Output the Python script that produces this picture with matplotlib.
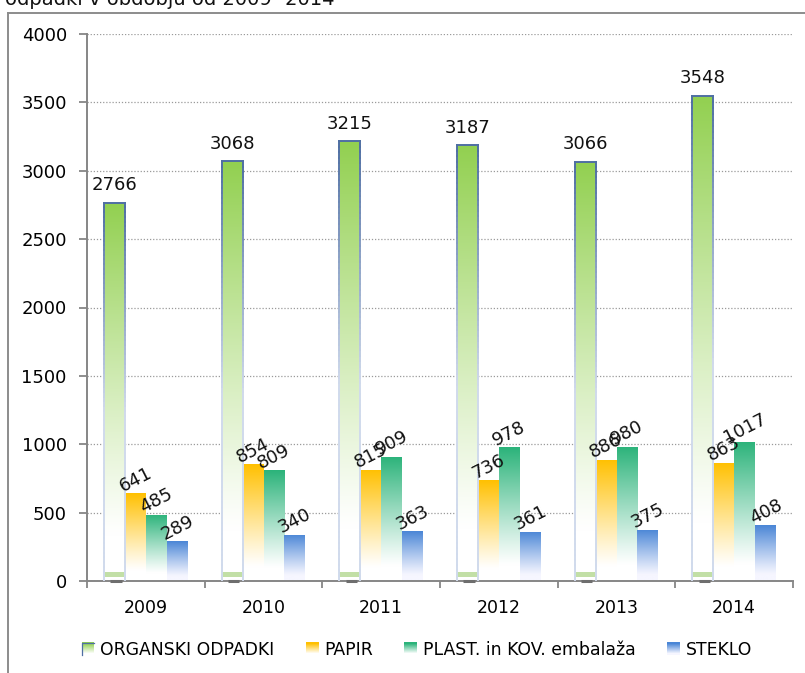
import numpy as np
import matplotlib
matplotlib.use("Agg")
import matplotlib.pyplot as plt
from matplotlib.colors import to_rgb
from matplotlib.patches import Rectangle
from matplotlib.collections import LineCollection
from matplotlib.legend_handler import HandlerBase
from matplotlib.lines import Line2D

plt.rcParams['font.family'] = ['DejaVu Sans']

years = ['2009', '2010', '2011', '2012', '2013', '2014']
series_names = ['ORGANSKI ODPADKI', 'PAPIR', 'PLAST. in KOV. embalaža', 'STEKLO']
organski = [2766, 3068, 3215, 3187, 3066, 3548]
papir = [641, 854, 815, 736, 886, 863]
plast = [485, 809, 909, 978, 980, 1017]
steklo = [289, 340, 363, 361, 375, 408]
yticks = [0, 500, 1000, 1500, 2000, 2500, 3000, 3500, 4000]
title_text = 'odpadki v obdobju od 2009 -2014'

top_colors = ['#92D050', '#FFC000', '#2BB37A', '#4A86D6']
bottom_colors = ['#FFFFFF', '#FFFFFF', '#FFFFFF', '#F6F6FF']
border_top = '#4F6FA3'
border_bottom = '#D0DAEC'

W, H = 805, 673
fig = plt.figure(figsize=(W / 100, H / 100), dpi=100)
ax = fig.add_axes([87 / W, 1 - 581 / H, (793 - 87) / W, (581 - 34) / H])

x = np.arange(len(years))
bw = 0.178
all_series = [organski, papir, plast, steklo]


def grad_colors(top, bottom, n, start=0.0, gamma=1.0):
    # t = 0 at bottom, 1 at top; colour is "bottom" until start, then ramps to "top"
    t = np.linspace(0, 1, n)[:, None]
    t = np.clip((t - start) / (1 - start), 0, 1) ** gamma
    a = np.array(to_rgb(bottom))
    b = np.array(to_rgb(top))
    return a + (b - a) * t


LBL = 13
for i, vals in enumerate(all_series):
    bars = ax.bar(x + (i - 1.5) * bw, vals, bw, facecolor='none', edgecolor='none', zorder=3)
    cols = grad_colors(top_colors[i], bottom_colors[i], 256, 0.12, 1.1)
    for rect, v in zip(bars, vals):
        x0, y0, w, h = rect.get_x(), rect.get_y(), rect.get_width(), rect.get_height()
        img = cols.reshape(256, 1, 3)
        im = ax.imshow(img, extent=[x0, x0 + w, y0, y0 + h], origin='lower',
                       aspect='auto', interpolation='bilinear', zorder=2)
        im.set_clip_path(rect)
        if i == 0:
            # light reflection band near the bottom
            ax.add_patch(Rectangle((x0, 32), w, 32, facecolor='#C2DFA6', edgecolor='none', zorder=2.5))
            # gradient border
            n = 80
            ys = np.linspace(y0, y0 + h, n + 1)
            bc = grad_colors(border_top, border_bottom, n, 0.45, 1.0)
            segs, cs = [], []
            for k in range(n):
                for xx in (x0, x0 + w):
                    segs.append([(xx, ys[k]), (xx, ys[k + 1])])
                    cs.append(bc[k])
            segs.append([(x0, y0 + h), (x0 + w, y0 + h)])
            cs.append(to_rgb(border_top))
            ax.add_collection(LineCollection(segs, colors=cs, linewidths=1.4, zorder=4,
                                             capstyle='projecting'))
            ax.add_collection(LineCollection([[(x0 + 0.3 * w, 0), (x0 + 0.85 * w, 0)]],
                                             colors=['#6E6E6E'], linewidths=2.2, zorder=5,
                                             clip_on=False))
            ax.annotate(str(v), (x0 + w / 2, v), xytext=(0, 6), textcoords='offset points',
                        ha='center', va='bottom', fontsize=LBL, color='#111111', zorder=6)
        else:
            ax.annotate(str(v), (x0 + w / 2, v), xytext=(0, 10), textcoords='offset points',
                        ha='center', va='center', rotation=27, rotation_mode='anchor',
                        fontsize=LBL, color='#111111', zorder=6)

ax.set_xlim(-0.5, len(years) - 0.5)
ax.set_ylim(0, 4000)
ax.set_yticks(yticks)
ax.set_yticklabels([str(t) for t in yticks])
ax.set_xticks(x)
ax.set_xticklabels(years)
ax.set_xticks(np.arange(len(years) + 1) - 0.5, minor=True)
ax.tick_params(axis='x', which='major', length=0, pad=13, labelsize=12.5)
ax.tick_params(axis='x', which='minor', length=5, width=1.3, color='#868686', direction='out')
ax.tick_params(axis='y', which='major', length=5.5, width=1.3, color='#868686', pad=9, labelsize=13)
ax.yaxis.grid(True, linestyle=(0, (1, 1.5)), color='#9A9A9A', linewidth=0.9)
ax.set_axisbelow(True)
for s in ['top', 'right']:
    ax.spines[s].set_visible(False)
for s in ['left', 'bottom']:
    ax.spines[s].set_color('#868686')
    ax.spines[s].set_linewidth(1.4)

# outer chart border (partially visible)
fig.add_artist(Line2D([8 / W, 8 / W], [0, 1 - 13 / H], transform=fig.transFigure,
                      color='#8C8C8C', linewidth=1.4))
fig.add_artist(Line2D([8 / W, 1], [1 - 13 / H, 1 - 13 / H], transform=fig.transFigure,
                      color='#8C8C8C', linewidth=1.4))

fig.text(5 / W, 1 - 5 / H, title_text, fontsize=14, va='baseline', ha='left', color='#111111')


class GradHandler(HandlerBase):
    def __init__(self, top, bottom, edge=None):
        super().__init__()
        self.top, self.bottom, self.edge = top, bottom, edge

    def create_artists(self, legend, orig_handle, xdescent, ydescent, width, height, fontsize, trans):
        n = 12
        cols = grad_colors(self.top, self.bottom, n, 0.1, 1.0)
        arts = []
        for k in range(n):
            r = Rectangle((-xdescent, -ydescent + k * height / n), width, height / n + 0.3,
                          facecolor=cols[k], edgecolor='none', transform=trans)
            arts.append(r)
        if self.edge is not None:
            arts.append(Line2D([-xdescent, -xdescent, -xdescent + width],
                               [-ydescent, -ydescent + height, -ydescent + height],
                               color=self.edge, linewidth=0.9, transform=trans))
        return arts


handles = [Rectangle((0, 0), 1, 1) for _ in series_names]
hmap = {}
for i, h in enumerate(handles):
    hmap[h] = GradHandler(top_colors[i], bottom_colors[i], border_top if i == 0 else None)

fig.legend(handles, series_names, loc='center', bbox_to_anchor=(417 / W, 1 - 650 / H),
           ncol=4, frameon=False, handler_map=hmap, columnspacing=1.8, handletextpad=0.35,
           handlelength=0.75, handleheight=0.75, fontsize=12.4)

fig.savefig('out.png', dpi=100)
